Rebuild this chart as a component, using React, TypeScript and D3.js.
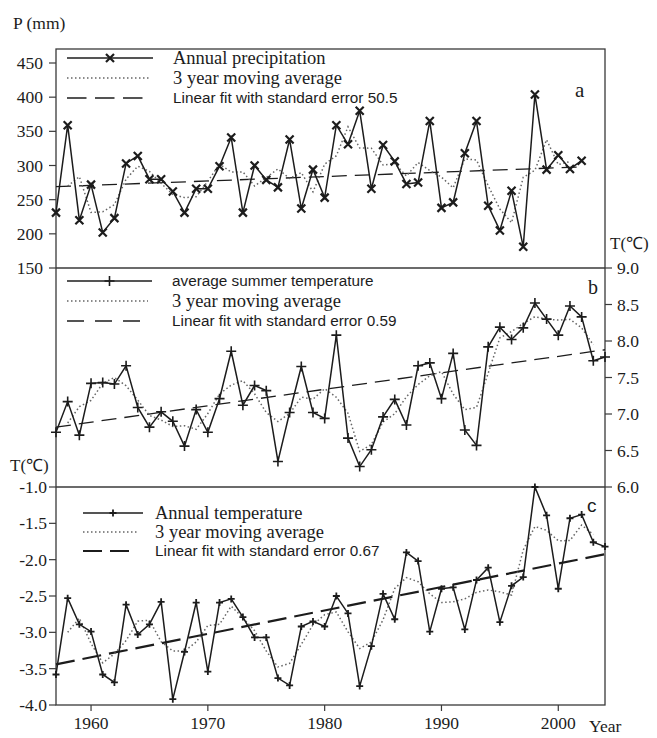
import * as d3 from 'd3'

// years shared by the panels
const years = [
  1957, 1958, 1959, 1960, 1961, 1962, 1963, 1964, 1965, 1966, 1967, 1968,
  1969, 1970, 1971, 1972, 1973, 1974, 1975, 1976, 1977, 1978, 1979, 1980,
  1981, 1982, 1983, 1984, 1985, 1986, 1987, 1988, 1989, 1990, 1991, 1992,
  1993, 1994, 1995, 1996, 1997, 1998, 1999, 2000, 2001, 2002, 2003, 2004,
]

// (a) annual precipitation, 1957-2002
const precip = [
  231, 359, 220, 272, 202, 223, 303, 314, 280, 280, 262, 231,
  266, 266, 299, 341, 231, 300, 279, 268, 338, 237, 294, 253,
  359, 331, 380, 266, 330, 306, 273, 275, 365, 238, 246, 318,
  365, 241, 205, 263, 181, 404, 294, 315, 295, 307,
]
// (b) average summer temperature
const summerT = [
  6.75, 7.17, 6.71, 7.42, 7.43, 7.41, 7.66, 7.09, 6.82, 7.03, 6.9, 6.56,
  7.06, 6.75, 7.21, 7.86, 7.12, 7.39, 7.32, 6.35, 7.02, 7.65, 7.02, 6.94,
  8.08, 6.67, 6.28, 6.51, 6.96, 7.2, 6.85, 7.66, 7.7, 7.21, 7.83, 6.78,
  6.57, 7.92, 8.19, 8.02, 8.18, 8.52, 8.3, 8.08, 8.48, 8.33, 7.73, 7.78,
]
// (c) annual temperature
const annualT = [
  -3.58, -2.53, -2.89, -2.99, -3.58, -3.69, -2.62, -3.03, -2.89, -2.58, -3.92, -3.27,
  -2.59, -3.54, -2.59, -2.54, -2.79, -3.07, -3.07, -3.63, -3.73, -2.92, -2.85, -2.92,
  -2.5, -2.74, -3.74, -3.19, -2.47, -2.82, -1.9, -2.02, -2.99, -2.4, -2.38, -2.96,
  -2.28, -2.11, -2.86, -2.36, -2.24, -1.0, -1.39, -2.4, -1.43, -1.38, -1.76, -1.82,
]

// linear fits, read at their two ends
const trendP: [number, number][] = [[1957, 269], [2002, 298]]
const trendS: [number, number][] = [[1957, 6.82], [2004, 7.88]]
const trendA: [number, number][] = [[1957, -3.44], [2004, -1.925]]

const ticksP = [150, 200, 250, 300, 350, 400, 450]
const ticksS = [6.0, 6.5, 7.0, 7.5, 8.0, 8.5, 9.0]
const ticksA = [-4.0, -3.5, -3.0, -2.5, -2.0, -1.5, -1.0]
const ticksYear = [1960, 1970, 1980, 1990, 2000]

const SERIF = '"Liberation Serif", "Times New Roman", serif'
const SANS = '"Liberation Sans", Arial, sans-serif'
const INK = '#1c1c1c'
const AXIS = '#3a3a3a'

const L = 56, R = 605, TOP = 49, BOT = 705

const x = d3.scaleLinear().domain([1957, 2004]).range([L, R])
const yP = d3.scaleLinear().domain([150, 450]).range([268, 63])
const yS = d3.scaleLinear().domain([6, 9]).range([487, 268])
const yA = d3.scaleLinear().domain([-4, -1]).range([705, 487])

// centred 3 year moving average of a series
function movAvg(vals: number[]) {
  const out: [number, number][] = []
  for (let i = 1; i < vals.length - 1; i++) {
    out.push([years[i], (vals[i - 1] + vals[i] + vals[i + 1]) / 3])
  }
  return out
}

const CROSS = 'M-4,-4L4,4M4,-4L-4,4'
const PLUS = 'M-5,0H5M0,-5V5'
const PLUS_S = 'M-3.5,0H3.5M0,-3.5V3.5'

function Series({ vals, y, marker, mw, trend, dash, tw }) {
  const pts = vals.map((v, i) => [years[i], v] as [number, number])
  const line = d3.line<[number, number]>().x(d => x(d[0])).y(d => y(d[1]))
  return (
    <g>
      <path d={line(trend)!} fill="none" stroke={INK} strokeWidth={tw} strokeDasharray={dash} />
      <path d={line(movAvg(vals))!} fill="none" stroke="#666" strokeWidth={1.5} strokeDasharray="1.5,2.5" />
      <path d={line(pts)!} fill="none" stroke={INK} strokeWidth={1.5} />
      {pts.map((p, i) => (
        <path key={i} d={marker} transform={`translate(${x(p[0])},${y(p[1])})`}
          stroke={INK} strokeWidth={mw} fill="none" />
      ))}
    </g>
  )
}

function Legend({ x0, x1, dotEnd, dashEnd, y0, gap, tx, items, marker, mw, dash, tw }) {
  return (
    <g>
      <line x1={x0} x2={x1} y1={y0} y2={y0} stroke={INK} strokeWidth={1.5} />
      <path d={marker} transform={`translate(${(x0 + x1) / 2},${y0})`} stroke={INK} strokeWidth={mw} fill="none" />
      <line x1={x0} x2={dotEnd} y1={y0 + gap} y2={y0 + gap} stroke="#666" strokeWidth={1.5} strokeDasharray="1.5,2.5" />
      <line x1={x0} x2={dashEnd} y1={y0 + 2 * gap} y2={y0 + 2 * gap} stroke={INK} strokeWidth={tw} strokeDasharray={dash} />
      {items.map((it, i) => (
        <text key={i} x={tx} y={y0 + i * gap} dy="0.35em" fontFamily={it.sans ? SANS : SERIF}
          fontSize={it.sans ? 15.3 : 18.5} fill={INK}>{it.text}</text>
      ))}
    </g>
  )
}

export default function App() {
  return (
    <svg width={657} height={738} style={{ position: 'absolute', left: 0, top: 0, background: '#fff' }}>
      {/* frame and panel separators */}
      <rect x={L} y={TOP} width={R - L} height={BOT - TOP} fill="none" stroke={AXIS} strokeWidth={1.3} />
      <line x1={L} x2={R} y1={yP(150)} y2={yP(150)} stroke={AXIS} strokeWidth={1.3} />
      <line x1={L} x2={R} y1={yA(-1)} y2={yA(-1)} stroke={AXIS} strokeWidth={1.3} />

      {/* left axis, panel a */}
      {ticksP.map(t => (
        <g key={t}>
          <line x1={L - 7} x2={L} y1={yP(t)} y2={yP(t)} stroke={AXIS} strokeWidth={1.2} />
          <text x={L - 13} y={yP(t)} dy="0.35em" textAnchor="end" fontFamily={SERIF} fontSize={17.5} fill={INK}>{t}</text>
        </g>
      ))}
      {/* right axis, panel b */}
      {ticksS.map(t => (
        <g key={t}>
          <line x1={R} x2={R + 7} y1={yS(t)} y2={yS(t)} stroke={AXIS} strokeWidth={1.2} />
          <text x={R + 12} y={yS(t)} dy="0.35em" fontFamily={SERIF} fontSize={17.5} fill={INK}>{t.toFixed(1)}</text>
        </g>
      ))}
      {/* left axis, panel c */}
      {ticksA.map(t => (
        <g key={t}>
          <line x1={L - 7} x2={L} y1={yA(t)} y2={yA(t)} stroke={AXIS} strokeWidth={1.2} />
          <text x={L - 9} y={yA(t)} dy="0.35em" textAnchor="end" fontFamily={SERIF} fontSize={17.5} fill={INK}>{t.toFixed(1)}</text>
        </g>
      ))}
      {/* year axis */}
      {ticksYear.map(t => (
        <g key={t}>
          <line x1={x(t)} x2={x(t)} y1={BOT} y2={BOT + 6} stroke={AXIS} strokeWidth={1.2} />
          <text x={x(t)} y={BOT + 18} dy="0.35em" textAnchor="middle" fontFamily={SERIF} fontSize={17.5} fill={INK}>{t}</text>
        </g>
      ))}

      <text x={13} y={29} fontFamily={SERIF} fontSize={17.5} fill={INK}>P (mm)</text>
      <text x={610} y={249} fontFamily={SERIF} fontSize={17} fill={INK}>T(℃)</text>
      <text x={10} y={471} fontFamily={SERIF} fontSize={17} fill={INK}>T(℃)</text>
      <text x={589} y={732} fontFamily={SERIF} fontSize={17.5} fill={INK}>Year</text>

      <text x={575} y={97} fontFamily={SERIF} fontSize={21} fill={INK}>a</text>
      <text x={588} y={294} fontFamily={SERIF} fontSize={20} fill={INK}>b</text>
      <text x={587} y={512} fontFamily={SANS} fontSize={19} fill={INK}>c</text>

      <Series vals={precip} y={yP} marker={CROSS} mw={2.2} trend={trendP} dash="15,8" tw={1.3} />
      <Series vals={summerT} y={yS} marker={PLUS} mw={1.6} trend={trendS} dash="15,8" tw={1.3} />
      <Series vals={annualT} y={yA} marker={PLUS_S} mw={1.8} trend={trendA} dash="19,8" tw={2.2} />

      <Legend x0={67} x1={153} dotEnd={151} dashEnd={145} y0={58} gap={20} tx={173} marker={CROSS} mw={2.2}
        dash="19.5,8.5" tw={1.3}
        items={[
          { text: 'Annual precipitation' },
          { text: '3 year moving average' },
          { text: 'Linear fit with standard error 50.5', sans: true },
        ]} />
      <Legend x0={67} x1={152} dotEnd={148} dashEnd={143} y0={281} gap={20} tx={172} marker={PLUS} mw={1.6}
        dash="17,11" tw={1.3}
        items={[
          { text: 'average summer temperature', sans: true },
          { text: '3 year moving average' },
          { text: 'Linear fit with standard error 0.59', sans: true },
        ]} />
      <Legend x0={83} x1={143} dotEnd={138} dashEnd={130} y0={513} gap={19} tx={155} marker={PLUS_S} mw={1.8}
        dash="19,8" tw={2.2}
        items={[
          { text: 'Annual temperature' },
          { text: '3 year moving average' },
          { text: 'Linear fit with standard error 0.67', sans: true },
        ]} />
    </svg>
  )
}
